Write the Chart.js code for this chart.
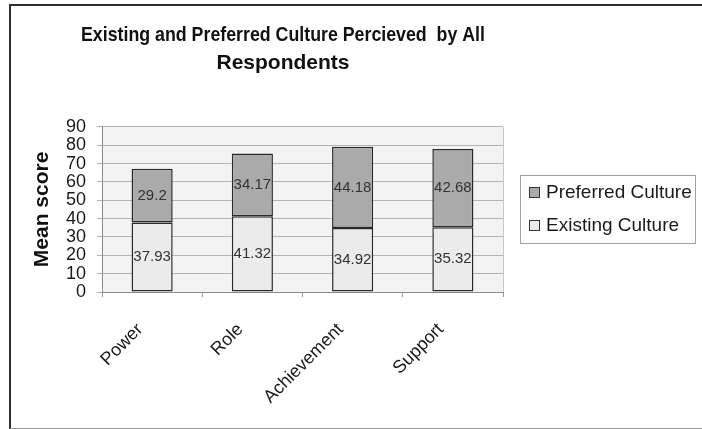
<!DOCTYPE html>
<html>
<head>
<meta charset="utf-8">
<script src="https://cdn.jsdelivr.net/npm/chart.js@4/dist/chart.umd.min.js"></script>
<style>
  html, body { margin: 0; padding: 0; background: #ffffff; }
  #wrap { width: 702px; height: 429px; }
</style>
</head>
<body>
<div id="wrap"><canvas id="c" width="702" height="429"></canvas></div>
<script>
// Culture types on the category axis
const categories = ['Power', 'Role', 'Achievement', 'Support'];
// Mean scores, stacked: existing at the bottom, preferred on top
const existingCulture = [37.93, 41.32, 34.92, 35.32];
const preferredCulture = [29.2, 34.17, 44.18, 42.68];
// Value axis ticks
const yTicks = [0, 10, 20, 30, 40, 50, 60, 70, 80, 90];

const BASE_FONT = "'Liberation Sans', Arial, sans-serif";

// Outer frame, plot background and plot border
const framePlugin = {
  id: 'frame',
  beforeDraw(chart) {
    const ctx = chart.ctx;
    const a = chart.chartArea;
    ctx.save();
    ctx.fillStyle = '#ffffff';
    ctx.fillRect(0, 0, chart.width, chart.height);
    ctx.fillStyle = '#f3f3f3';
    ctx.fillRect(a.left, a.top, a.right - a.left, a.bottom - a.top);
    ctx.strokeStyle = '#2e2e2e';
    ctx.lineWidth = 2;
    ctx.beginPath();
    ctx.moveTo(10, 429);
    ctx.lineTo(10, 5);
    ctx.lineTo(702, 5);
    ctx.stroke();
    ctx.strokeStyle = '#9a9a9a';
    ctx.lineWidth = 1;
    ctx.beginPath();
    ctx.moveTo(10, 428.5);
    ctx.lineTo(702, 428.5);
    ctx.stroke();
    ctx.restore();
  },
  beforeDatasetsDraw(chart) {
    const ctx = chart.ctx;
    const a = chart.chartArea;
    ctx.save();
    ctx.strokeStyle = '#c8c8c8';
    ctx.lineWidth = 1;
    ctx.beginPath();
    ctx.moveTo(Math.round(a.right) + 0.5, a.top);
    ctx.lineTo(Math.round(a.right) + 0.5, a.bottom);
    ctx.stroke();
    ctx.restore();
  }
};

// Title centred at x = 283 and held to a 403px line width
const titleShift = {
  id: 'titleShift',
  afterLayout(chart) {
    const t = chart.titleBlock;
    if (t) { t.left = 81; t.right = 485; t.width = 404; }
  }
};

// Segment values written in the middle of each bar piece
const valueLabels = {
  id: 'valueLabels',
  afterDatasetsDraw(chart) {
    const ctx = chart.ctx;
    ctx.save();
    ctx.font = '15px ' + BASE_FONT;
    ctx.fillStyle = '#333333';
    ctx.textAlign = 'center';
    ctx.textBaseline = 'middle';
    chart.data.datasets.forEach((ds, di) => {
      const meta = chart.getDatasetMeta(di);
      meta.data.forEach((bar, i) => {
        const p = bar.getProps(['x', 'y', 'base'], true);
        ctx.fillText(String(ds.data[i]), p.x, (p.y + p.base) / 2);
      });
    });
    ctx.restore();
  }
};

// Boxed legend to the right of the plot, top series first
const boxLegend = {
  id: 'boxLegend',
  afterDraw(chart) {
    const ctx = chart.ctx;
    const x0 = 520, y0 = 175, w = 175, h = 68;
    ctx.save();
    ctx.fillStyle = '#ffffff';
    ctx.fillRect(x0, y0, w, h);
    ctx.strokeStyle = '#a0a0a0';
    ctx.lineWidth = 1;
    ctx.strokeRect(x0 + 0.5, y0 + 0.5, w, h);
    ctx.font = '19px ' + BASE_FONT;
    ctx.textBaseline = 'middle';
    ctx.textAlign = 'left';
    const items = chart.data.datasets.slice().reverse();
    items.forEach((ds, k) => {
      const cy = y0 + 17 + k * 33;
      ctx.fillStyle = ds.backgroundColor;
      ctx.fillRect(529, cy - 5, 10, 10);
      ctx.strokeStyle = '#333333';
      ctx.lineWidth = 1;
      ctx.strokeRect(529.5, cy - 4.5, 10, 10);
      ctx.fillStyle = '#1a1a1a';
      ctx.fillText(ds.label, 546, cy + 1);
    });
    ctx.restore();
  }
};

new Chart(document.getElementById('c'), {
  type: 'bar',
  data: {
    labels: categories,
    datasets: [
      {
        label: 'Existing Culture',
        data: existingCulture,
        backgroundColor: '#ebebeb',
        borderColor: '#2a2a2a',
        borderWidth: 1.5,
        borderSkipped: false
      },
      {
        label: 'Preferred Culture',
        data: preferredCulture,
        backgroundColor: '#aaaaaa',
        borderColor: '#2a2a2a',
        borderWidth: 1.5,
        borderSkipped: false
      }
    ]
  },
  options: {
    responsive: false,
    animation: false,
    devicePixelRatio: 1,
    layout: { padding: { left: 0, right: 199, top: 0, bottom: 0 } },
    datasets: { bar: { categoryPercentage: 1.0, barPercentage: 0.41 } },
    plugins: {
      legend: { display: false },
      tooltip: { enabled: false },
      title: {
        display: true,
        text: ['Existing and Preferred Culture Percieved  by All', 'Respondents'],
        color: '#111111',
        font: { family: BASE_FONT, size: 21, weight: 'bold', lineHeight: 1.33 },
        padding: { top: 21, bottom: 50 }
      }
    },
    scales: {
      x: {
        stacked: true,
        afterFit(s) { s.height = 137; },
        grid: { drawOnChartArea: false, drawTicks: true, tickLength: 5, color: '#9a9a9a' },
        border: { color: '#8a8a8a', width: 1 },
        ticks: {
          minRotation: 45, maxRotation: 45, padding: 22, labelOffset: -12,
          color: '#1a1a1a',
          font: { family: BASE_FONT, size: 18 }
        }
      },
      y: {
        stacked: true,
        min: 0,
        max: 90,
        afterFit(s) { s.width = 102; },
        afterBuildTicks(s) { s.ticks = yTicks.map(v => ({ value: v })); },
        grid: { color: '#b4b4b4', lineWidth: 1, drawTicks: true, tickLength: 5 },
        border: { color: '#8a8a8a', width: 1 },
        ticks: {
          stepSize: 10, padding: 11, autoSkip: false,
          color: '#1a1a1a',
          font: { family: BASE_FONT, size: 18, lineHeight: 1 }
        },
        title: {
          display: true,
          text: 'Mean score',
          color: '#111111',
          font: { family: BASE_FONT, size: 21, weight: 'bold' },
          padding: { top: 30, bottom: 0 }
        }
      }
    }
  },
  plugins: [framePlugin, titleShift, valueLabels, boxLegend]
});
</script>
</body>
</html>
